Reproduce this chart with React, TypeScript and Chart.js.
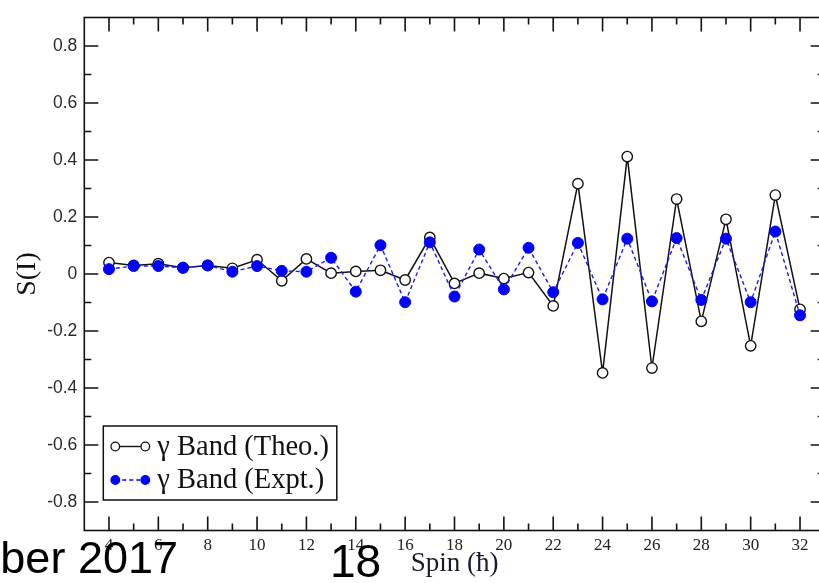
import React, { useEffect, useRef } from "react";
import { Chart, registerables } from "chart.js";

Chart.register(...registerables);

// Spin values (in units of ħ) and signature splitting S(I) for the γ band
const spins = [4, 5, 6, 7, 8, 9, 10, 11, 12, 13, 14, 15, 16, 17, 18, 19, 20, 21, 22, 23, 24, 25, 26, 27, 28, 29, 30, 31, 32];
const theoValues = [
  0.04, 0.03, 0.036, 0.022, 0.03, 0.02, 0.05, -0.024, 0.053, 0.003, 0.009, 0.013, -0.021, 0.128, -0.033,
  0.003, -0.016, 0.005, -0.112, 0.317, -0.347, 0.412, -0.33, 0.263, -0.166, 0.192, -0.252, 0.277, -0.124,
];
const exptValues = [
  0.017, 0.028, 0.028, 0.022, 0.03, 0.008, 0.028, 0.011, 0.008, 0.057, -0.062, 0.101, -0.099, 0.111, -0.079,
  0.086, -0.054, 0.092, -0.064, 0.109, -0.089, 0.124, -0.096, 0.126, -0.091, 0.124, -0.099, 0.149, -0.145,
];

const seriesLabels = ["γ Band (Theo.)", "γ Band (Expt.)"];
const xTitle = "Spin (ħ)";
const yTitle = "S(I)";

const xMin = 3;
const xMax = 33;
const yMin = -0.9;
const yMax = 0.9;
const xTickValues = [4, 6, 8, 10, 12, 14, 16, 18, 20, 22, 24, 26, 28, 30, 32];
const xMinorValues = [5, 7, 9, 11, 13, 15, 17, 19, 21, 23, 25, 27, 29, 31];
const yTickValues = [-0.8, -0.6, -0.4, -0.2, 0, 0.2, 0.4, 0.6, 0.8];
const yTickLabels = ["-0.8", "-0.6", "-0.4", "-0.2", "0", "0.2", "0.4", "0.6", "0.8"];
const yMinorValues = [-0.7, -0.5, -0.3, -0.1, 0.1, 0.3, 0.5, 0.7];

const footerLeft = "ber 2017";
const footerPage = "18";

const SERIF = '"Liberation Serif", "Times New Roman", serif';
const SANS = '"Liberation Sans", Arial, sans-serif';

// Boxed frame with inward-pointing major/minor ticks on all four sides
const frameTicks = {
  id: "frameTicks",
  afterDatasetsDraw(chart: any) {
    const { ctx, chartArea, scales } = chart;
    const { left, right, top, bottom } = chartArea;
    const xs = scales.x;
    const ys = scales.y;
    ctx.save();
    ctx.strokeStyle = "#111";
    ctx.lineWidth = 1.6;
    ctx.beginPath();
    const xTick = (v: number, len: number) => {
      const p = xs.getPixelForValue(v);
      ctx.moveTo(p, bottom);
      ctx.lineTo(p, bottom - len);
      ctx.moveTo(p, top);
      ctx.lineTo(p, top + len);
    };
    const yTick = (v: number, len: number) => {
      const p = ys.getPixelForValue(v);
      ctx.moveTo(left, p);
      ctx.lineTo(left + len, p);
      ctx.moveTo(right, p);
      ctx.lineTo(right - len, p);
    };
    xTickValues.forEach((v) => xTick(v, 14));
    xMinorValues.forEach((v) => xTick(v, 7));
    yTickValues.forEach((v) => yTick(v, 14));
    yMinorValues.forEach((v) => yTick(v, 7));
    ctx.stroke();
    ctx.strokeRect(left, top, right - left, bottom - top);
    ctx.restore();
  },
};

// Framed legend in the lower-left corner of the plot area
const boxLegend = {
  id: "boxLegend",
  afterDraw(chart: any) {
    const { ctx, chartArea } = chart;
    const bx = chartArea.left + 19;
    const by = chartArea.bottom - 104.5;
    const bw = 233.5;
    const bh = 74;
    ctx.save();
    ctx.fillStyle = "#fff";
    ctx.fillRect(bx, by, bw, bh);
    ctx.strokeStyle = "#111";
    ctx.lineWidth = 1.5;
    ctx.strokeRect(bx, by, bw, bh);

    const rows = [
      { y: by + 20.5, label: seriesLabels[0], stroke: "#111", fill: "#fff", dash: [] as number[] },
      { y: by + 54, label: seriesLabels[1], stroke: "#0000ff", fill: "#0000ff", dash: [4, 3] },
    ];
    rows.forEach((r) => {
      const c1 = bx + 12;
      const c2 = bx + 42;
      ctx.setLineDash(r.dash);
      ctx.strokeStyle = r.stroke;
      ctx.lineWidth = 1.4;
      ctx.beginPath();
      ctx.moveTo(c1, r.y);
      ctx.lineTo(c2, r.y);
      ctx.stroke();
      ctx.setLineDash([]);
      [c1, c2].forEach((cx) => {
        ctx.beginPath();
        ctx.arc(cx, r.y, 4.3, 0, Math.PI * 2);
        ctx.fillStyle = r.fill;
        ctx.fill();
        ctx.strokeStyle = r.stroke;
        ctx.lineWidth = 1.3;
        ctx.stroke();
      });
      ctx.fillStyle = "#111";
      ctx.font = `28.5px ${SERIF}`;
      ctx.textAlign = "left";
      ctx.textBaseline = "middle";
      ctx.fillText(r.label, bx + 54, r.y + 1);
    });
    ctx.restore();
  },
};

export default function App() {
  const canvasRef = useRef<HTMLCanvasElement | null>(null);

  useEffect(() => {
    const canvas = canvasRef.current;
    if (!canvas) return;
    const chart = new Chart(canvas, {
      type: "line",
      data: {
        datasets: [
          {
            label: seriesLabels[1],
            data: spins.map((s, i) => ({ x: s, y: exptValues[i] })),
            borderColor: "#1a1aff",
            borderWidth: 1.4,
            borderDash: [4, 3],
            pointStyle: "circle",
            pointRadius: 5.5,
            pointBackgroundColor: "#0000ff",
            pointBorderColor: "#0000ff",
            pointBorderWidth: 1,
            tension: 0,
            order: 1,
          },
          {
            label: seriesLabels[0],
            data: spins.map((s, i) => ({ x: s, y: theoValues[i] })),
            borderColor: "#111",
            borderWidth: 1.5,
            pointStyle: "circle",
            pointRadius: 5.2,
            pointBackgroundColor: "#fff",
            pointBorderColor: "#111",
            pointBorderWidth: 1.4,
            tension: 0,
            order: 2,
          },
        ],
      },
      options: {
        animation: false,
        responsive: false,
        devicePixelRatio: 1,
        layout: { padding: { top: 11.5, right: 9.3, left: 0, bottom: 0 } },
        plugins: {
          legend: { display: false },
          tooltip: { enabled: false },
        },
        scales: {
          x: {
            type: "linear",
            min: xMin,
            max: xMax,
            grid: { display: false, drawTicks: false },
            border: { display: false },
            afterBuildTicks: (scale: any) => {
              scale.ticks = xTickValues.map((v) => ({ value: v }));
            },
            afterFit: (scale: any) => {
              scale.height = 52.5;
            },
            ticks: {
              autoSkip: false,
              maxRotation: 0,
              padding: 4.5,
              color: "#222",
              font: { family: SERIF, size: 17 },
              callback: (v: any) => String(v),
            },
            title: {
              display: true,
              text: xTitle,
              color: "#1a1a2e",
              font: { family: SERIF, size: 27 },
              padding: { top: 0, bottom: 3 },
            },
          },
          y: {
            type: "linear",
            min: yMin,
            max: yMax,
            grid: { display: false, drawTicks: false },
            border: { display: false },
            afterBuildTicks: (scale: any) => {
              scale.ticks = yTickValues.map((v) => ({ value: v }));
            },
            afterFit: (scale: any) => {
              scale.width = 84.3;
            },
            ticks: {
              autoSkip: false,
              padding: 7,
              color: "#2a2a2a",
              font: { family: SANS, size: 17.5 },
              callback: (_v: any, i: number) => yTickLabels[i],
            },
            title: {
              display: true,
              text: yTitle,
              color: "#111",
              font: { family: SERIF, size: 28 },
              padding: { top: 10.7, bottom: 0 },
            },
          },
        },
      },
      plugins: [frameTicks, boxLegend],
    } as any);
    return () => chart.destroy();
  }, []);

  const footerStyle: React.CSSProperties = {
    position: "absolute",
    fontFamily: SANS,
    color: "#000",
    lineHeight: "44px",
    whiteSpace: "nowrap",
    margin: 0,
  };

  return (
    <div
      style={{
        position: "fixed",
        left: 0,
        top: 0,
        width: 819,
        height: 583,
        overflow: "hidden",
        background: "#fff",
      }}
    >
      <canvas
        ref={canvasRef}
        width={834}
        height={583}
        style={{ position: "absolute", left: 0, top: 0 }}
      />
      <div style={{ ...footerStyle, fontSize: 45, right: 641, top: 536 }}>{footerLeft}</div>
      <div style={{ ...footerStyle, fontSize: 46, left: 330, top: 539 }}>{footerPage}</div>
    </div>
  );
}
